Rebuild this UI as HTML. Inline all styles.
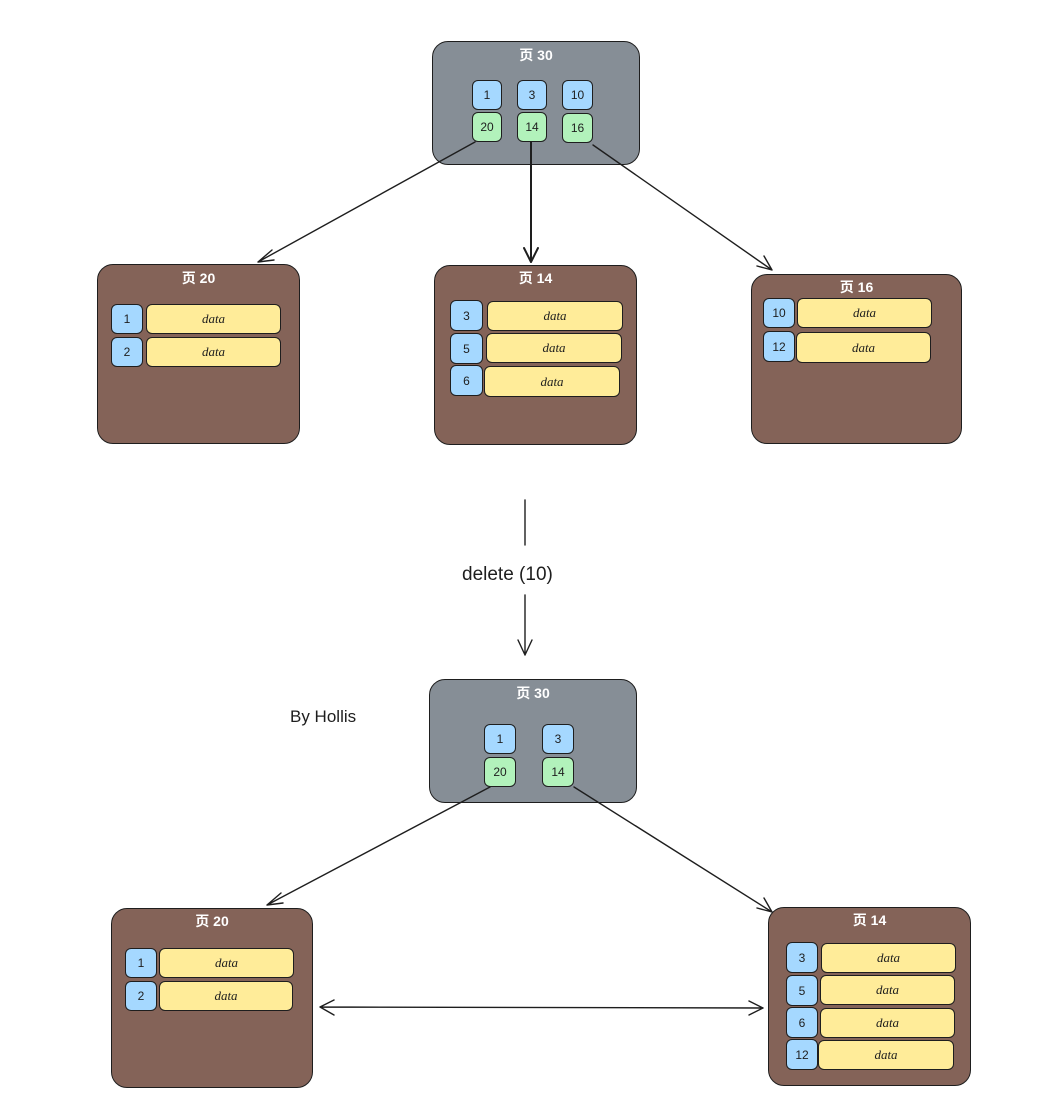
<!DOCTYPE html>
<html><head><meta charset="utf-8"><style>
body{margin:0;width:1064px;height:1103px;background:#fff;position:relative;overflow:hidden;font-family:"Liberation Sans","Noto Sans CJK SC",sans-serif;}
.b{position:absolute;box-sizing:border-box;border:1.5px solid #1e1e1e;border-radius:12px;}
.g{background:#868e96;border-radius:16px;}
.p{background:#846358;border-radius:16px;}
.t{position:absolute;left:0;right:0;text-align:center;color:#fff;font-size:14px;font-weight:bold;}
.k{position:absolute;box-sizing:border-box;border:1.5px solid #1e1e1e;border-radius:6px;background:#a5d8ff;font-size:12px;color:#1e1e1e;display:flex;align-items:center;justify-content:center;}
.n{background:#b2f2bb;}
.d{position:absolute;box-sizing:border-box;border:1.5px solid #1e1e1e;border-radius:6px;background:#ffec99;font-size:13px;color:#1e1e1e;display:flex;align-items:center;justify-content:center;font-family:"Liberation Serif",serif;font-style:italic;}
.l{position:absolute;font-size:17px;color:#1e1e1e;}
svg{z-index:5}
</style></head><body>
<svg style="position:absolute;left:0;top:0" width="1064" height="1103">
<g stroke="#1e1e1e" stroke-width="1.4" fill="none" stroke-linecap="round">
<path d="M475 142 L258 262 M258 262 L272 250 M258 262 L274 260"/>
<path d="M531 142 L531 262 M531 262 L524 248 M531 262 L538 248" stroke-width="2"/>
<path d="M593 145 L772 270 M772 270 L757 266 M772 270 L764 256"/>
<path d="M525 500 L525 545 M525 595 L525 655 M525 655 L518 640 M525 655 L532 640"/>
<path d="M490 787 L267 905 M267 905 L281 893 M267 905 L283 903"/>
<path d="M574 787 L772 912 M772 912 L757 908 M772 912 L764 898"/>
<path d="M320 1007 L763 1008 M320 1007 L334 1000 M320 1007 L334 1015 M763 1008 L749 1001 M763 1008 L749 1015"/>
</g></svg>

<div class="b g" style="left:432px;top:41px;width:208px;height:124px"><div class="t" style="top:3px">页 30</div></div>
<div class="k" style="left:472px;top:80px;width:30px;height:30px">1</div>
<div class="k n" style="left:472px;top:112px;width:30px;height:30px">20</div>
<div class="k" style="left:517px;top:80px;width:30px;height:30px">3</div>
<div class="k n" style="left:517px;top:112px;width:30px;height:30px">14</div>
<div class="k" style="left:562px;top:80px;width:31px;height:30px">10</div>
<div class="k n" style="left:562px;top:113px;width:31px;height:30px">16</div>

<div class="b p" style="left:97px;top:264px;width:203px;height:180px"><div class="t" style="top:3px">页 20</div></div>
<div class="k" style="left:111px;top:304px;width:32px;height:30px">1</div><div class="d" style="left:146px;top:304px;width:135px;height:30px">data</div>
<div class="k" style="left:111px;top:337px;width:32px;height:30px">2</div><div class="d" style="left:146px;top:337px;width:135px;height:30px">data</div>

<div class="b p" style="left:434px;top:265px;width:203px;height:180px"><div class="t" style="top:2px">页 14</div></div>
<div class="k" style="left:450px;top:300px;width:33px;height:31px">3</div><div class="d" style="left:487px;top:301px;width:136px;height:30px">data</div>
<div class="k" style="left:450px;top:333px;width:33px;height:31px">5</div><div class="d" style="left:486px;top:333px;width:136px;height:30px">data</div>
<div class="k" style="left:450px;top:365px;width:33px;height:31px">6</div><div class="d" style="left:484px;top:366px;width:136px;height:31px">data</div>

<div class="b p" style="left:751px;top:274px;width:211px;height:170px"><div class="t" style="top:2px">页 16</div></div>
<div class="k" style="left:763px;top:298px;width:32px;height:30px">10</div><div class="d" style="left:797px;top:298px;width:135px;height:30px">data</div>
<div class="k" style="left:763px;top:331px;width:32px;height:31px">12</div><div class="d" style="left:796px;top:332px;width:135px;height:31px">data</div>

<div class="l" style="left:462px;top:564px;font-size:19px">delete (10)</div>
<div class="l" style="left:290px;top:707px">By Hollis</div>

<div class="b g" style="left:429px;top:679px;width:208px;height:124px"><div class="t" style="top:3px">页 30</div></div>
<div class="k" style="left:484px;top:724px;width:32px;height:30px">1</div>
<div class="k n" style="left:484px;top:757px;width:32px;height:30px">20</div>
<div class="k" style="left:542px;top:724px;width:32px;height:30px">3</div>
<div class="k n" style="left:542px;top:757px;width:32px;height:30px">14</div>

<div class="b p" style="left:111px;top:908px;width:202px;height:180px"><div class="t" style="top:2px">页 20</div></div>
<div class="k" style="left:125px;top:948px;width:32px;height:30px">1</div><div class="d" style="left:159px;top:948px;width:135px;height:30px">data</div>
<div class="k" style="left:125px;top:981px;width:32px;height:30px">2</div><div class="d" style="left:159px;top:981px;width:134px;height:30px">data</div>

<div class="b p" style="left:768px;top:907px;width:203px;height:179px"><div class="t" style="top:2px">页 14</div></div>
<div class="k" style="left:786px;top:942px;width:32px;height:31px">3</div><div class="d" style="left:821px;top:943px;width:135px;height:30px">data</div>
<div class="k" style="left:786px;top:975px;width:32px;height:31px">5</div><div class="d" style="left:820px;top:975px;width:135px;height:30px">data</div>
<div class="k" style="left:786px;top:1007px;width:32px;height:31px">6</div><div class="d" style="left:820px;top:1008px;width:135px;height:30px">data</div>
<div class="k" style="left:786px;top:1039px;width:32px;height:31px">12</div><div class="d" style="left:818px;top:1040px;width:136px;height:30px">data</div>
</body></html>
